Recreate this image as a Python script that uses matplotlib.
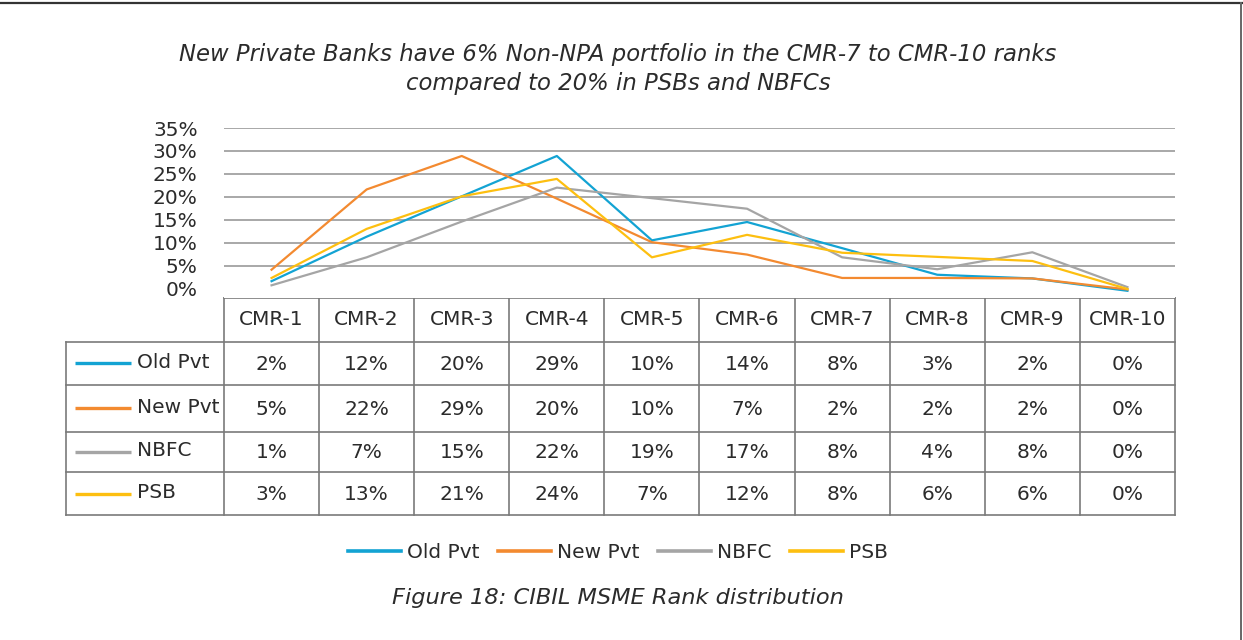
import matplotlib.pyplot as plt
from matplotlib.lines import Line2D

plt.rcParams['font.family'] = ['DejaVu Sans']

# data
categories = ['CMR-1', 'CMR-2', 'CMR-3', 'CMR-4', 'CMR-5',
              'CMR-6', 'CMR-7', 'CMR-8', 'CMR-9', 'CMR-10']
series_names = ['Old Pvt', 'New Pvt', 'NBFC', 'PSB']

# plotted (unrounded) values, %
old_pvt = [1.6, 11.3, 20.1, 28.9, 10.5, 14.5, 8.8, 3.0, 2.2, -0.5]
new_pvt = [4.1, 21.6, 28.9, 19.6, 10.1, 7.4, 2.3, 2.3, 2.2, -0.2]
nbfc = [0.7, 6.8, 14.6, 22.0, 19.7, 17.4, 6.8, 4.2, 7.9, 0.3]
psb = [2.3, 13.0, 20.1, 23.9, 6.8, 11.7, 7.8, 6.9, 6.0, -0.1]

# values shown in the data table, %
old_pvt_tbl = [2, 12, 20, 29, 10, 14, 8, 3, 2, 0]
new_pvt_tbl = [5, 22, 29, 20, 10, 7, 2, 2, 2, 0]
nbfc_tbl = [1, 7, 15, 22, 19, 17, 8, 4, 8, 0]
psb_tbl = [3, 13, 21, 24, 7, 12, 8, 6, 6, 0]

colors = ['#13a3d3', '#f38a30', '#a5a5a5', '#fdbf10']
text_color = '#2b2b2b'
border = '#7a7a7a'
fs = 14.5

W, H = 1243, 640
fig = plt.figure(figsize=(W / 100, H / 100), dpi=100)

# plot area in pixel layout
x0, x1 = 224, 1175
y_top, y_bot = 128, 297.5
ax = fig.add_axes([x0 / W, 1 - y_bot / H, (x1 - x0) / W, (y_bot - y_top) / H])

xs = range(len(categories))
for vals, c in zip([old_pvt, new_pvt, nbfc, psb], colors):
    ax.plot(xs, [v / 100 for v in vals], color=c, lw=1.6, zorder=3)

ax.set_xlim(-0.5, len(categories) - 0.5)
ax.set_ylim(-0.0196, 0.35)
ax.set_yticks([i / 100 for i in range(0, 36, 5)])
ax.set_yticklabels([f'{i}%' for i in range(0, 36, 5)], fontsize=fs, color=text_color)
ax.tick_params(axis='y', length=0, pad=19)
ax.set_xticks([])
ax.yaxis.grid(True, color='#9a9a9a', lw=1.2)
ax.get_ygridlines()[0].set_visible(False)
for s in ax.spines.values():
    s.set_visible(False)

# overlay in pixel coordinates for table, title, legend, frame
ov = fig.add_axes([0, 0, 1, 1], zorder=-1)
ov.set_xlim(0, W)
ov.set_ylim(H, 0)
ov.axis('off')

col_w = (x1 - x0) / len(categories)
row_edges = [297.5, 341.5, 385, 431.5, 472, 515]
lbl_left = 66

# horizontal lines
ov.plot([x0, x1], [row_edges[0]] * 2, color=border, lw=1.2)
for y in row_edges[1:]:
    ov.plot([lbl_left, x1], [y, y], color=border, lw=1.2)
# vertical lines
ov.plot([lbl_left, lbl_left], [row_edges[1], row_edges[-1]], color=border, lw=1.2)
for k in range(len(categories) + 1):
    x = x0 + k * col_w
    ov.plot([x, x], [row_edges[0], row_edges[-1]], color=border, lw=1.2)

# header
hy = (row_edges[0] + row_edges[1]) / 2
for k, cat in enumerate(categories):
    ov.text(x0 + (k + 0.5) * col_w, hy, cat, ha='center', va='center',
            fontsize=fs, color=text_color)

# rows
for r, (name, tbl, c) in enumerate(zip(series_names,
                                       [old_pvt_tbl, new_pvt_tbl, nbfc_tbl, psb_tbl],
                                       colors)):
    cy = (row_edges[r + 1] + row_edges[r + 2]) / 2
    ov.plot([75, 131], [cy, cy], color=c, lw=2.4, solid_capstyle='butt')
    ov.text(137, cy - 1, name, ha='left', va='center', fontsize=fs, color=text_color)
    for k, v in enumerate(tbl):
        ov.text(x0 + (k + 0.5) * col_w, cy + 1, f'{v}%', ha='center', va='center',
                fontsize=fs, color=text_color)

# title
ov.text(618, 69, 'New Private Banks have 6% Non-NPA portfolio in the CMR-7 to CMR-10 ranks\n'
        'compared to 20% in PSBs and NBFCs', ha='center', va='center',
        fontsize=16.4, style='italic', color=text_color, linespacing=1.35)

# bottom legend
handles = [Line2D([], [], color=c, lw=2.6) for c in colors]
fig.legend(handles, series_names, loc='center', bbox_to_anchor=(618 / W, 1 - 553 / H),
           ncol=4, frameon=False, fontsize=fs, handlelength=2.65, handletextpad=0.3,
           columnspacing=0.9, labelcolor=text_color)

# caption
ov.text(618, 598, 'Figure 18: CIBIL MSME Rank distribution', ha='center', va='center',
        fontsize=16.2, style='italic', color=text_color)

# frame lines
ov.plot([0, W], [3, 3], color='#333333', lw=1.6)
ov.plot([1241.5, 1241.5], [3, H], color='#666666', lw=1.4)

plt.savefig('out.png', dpi=100)
plt.close()
